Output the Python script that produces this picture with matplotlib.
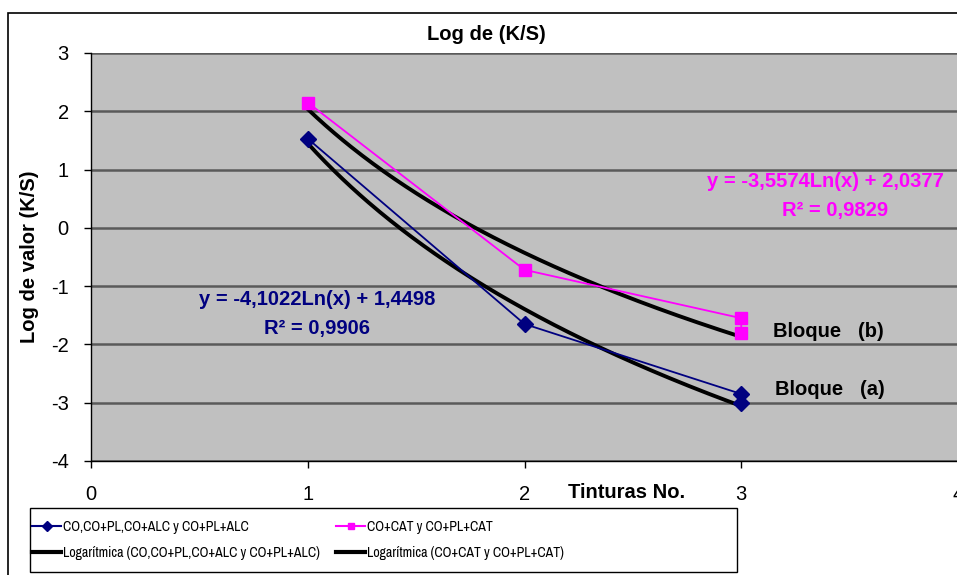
import matplotlib

matplotlib.use("Agg")
import matplotlib.pyplot as plt  # noqa: E402
import matplotlib.font_manager as fm  # noqa: E402
import numpy as np  # noqa: E402
from matplotlib.lines import Line2D  # noqa: E402
from matplotlib.patches import Rectangle  # noqa: E402

plt.rcParams["font.family"] = ["Liberation Sans", "DejaVu Sans"]
plt.rcParams["axes.unicode_minus"] = False

# measured values
tinturas_a = [1, 2, 3, 3]
logks_a = [1.53, -1.65, -2.85, -3.00]
tinturas_b = [1, 2, 3, 3]
logks_b = [2.15, -0.72, -1.55, -1.80]

# trendline coefficients as printed on the chart: y = m*ln(x) + c, R^2
trend_a = (-4.1022, 1.4498, 0.9906)
trend_b = (-3.5574, 2.0377, 0.9829)

label_a = "CO,CO+PL,CO+ALC y CO+PL+ALC"
label_b = "CO+CAT y CO+PL+CAT"

NAVY, MAGENTA, GRAY_BG, GRID = "#000080", "#FF00FF", "#C0C0C0", "#5a5a5a"


def narrow_font():
    """Pick a condensed face for the legend if one is installed."""
    for f in fm.fontManager.ttflist:
        if "Narrow" in f.name or "Condensed" in f.name:
            return {"family": f.name}
    for f in fm.fontManager.ttflist:
        if str(f.stretch).lower() in ("condensed", "semi-condensed", "600", "700"):
            return {"family": f.name, "stretch": f.stretch}
    return {"family": "Liberation Sans"}


def fmt(v):
    return f"{v:.4f}".replace(".", ",")


W, H = 957, 575
fig = plt.figure(figsize=(W / 100, H / 100), dpi=100)
ax = fig.add_axes([91 / W, (H - 461) / H, 867 / W, 408 / H])
ax.set_facecolor(GRAY_BG)

# outer chart frame (Excel style, clipped on right/bottom)
fig.add_artist(Rectangle((8 / W, -0.1), 1.2, (H - 13) / H + 0.1,
                         transform=fig.transFigure, fill=False,
                         edgecolor="black", lw=1.2))

ax.set_xlim(0, 4)
ax.set_ylim(-4, 3)
ax.set_xticks([0, 1, 2, 3, 4])
ax.set_yticks(range(-4, 4))
ax.yaxis.grid(True, color=GRID, lw=1.8)
ax.set_axisbelow(True)
for side in ("top", "right"):
    ax.spines[side].set_visible(False)
for side in ("left", "bottom"):
    ax.spines[side].set_color("black")
    ax.spines[side].set_linewidth(1.0)
ax.tick_params(axis="both", direction="out", length=5, width=1,
               labelsize=14.5, colors="black")
ax.tick_params(axis="y", pad=11)
ax.tick_params(axis="x", pad=12)

# trendlines
xs = np.linspace(1, 3, 200)
ax.plot(xs, trend_a[0] * np.log(xs) + trend_a[1], color="black", lw=2.8,
        zorder=3)
ax.plot(xs, trend_b[0] * np.log(xs) + trend_b[1], color="black", lw=2.8,
        zorder=3)

# data series
ax.plot(tinturas_a, logks_a, color=NAVY, lw=1.3, marker="D", ms=8.5,
        mfc=NAVY, mec=NAVY, zorder=4)
ax.plot(tinturas_b, logks_b, color=MAGENTA, lw=1.3, marker="s", ms=8,
        mfc=MAGENTA, mec=MAGENTA, zorder=4)

BOLD = {"fontsize": 14.5, "fontweight": "bold"}
fig.text(486 / W, (H - 34) / H, "Log de (K/S)", ha="center", va="center",
         **BOLD)
fig.text(30 / W, (H - 257) / H, "Log de valor (K/S)", rotation=90,
         ha="center", va="center", **BOLD)
fig.text(568 / W, (H - 492) / H, "Tinturas No.", ha="left", va="center",
         **BOLD)

# equations
ax.text(1.043, -1.235, f"y = {fmt(trend_a[0])}Ln(x) + {fmt(trend_a[1])}",
        color=NAVY, ha="center", va="center", **BOLD)
ax.text(1.043, -1.73, f"R² = {fmt(trend_a[2])}",
        color=NAVY, ha="center", va="center", **BOLD)
ax.text(2.842, 0.79, f"y = {fmt(trend_b[0])}Ln(x) + {fmt(trend_b[1])}",
        color=MAGENTA, ha="left", va="center", clip_on=False, **BOLD)
ax.text(3.433, 0.29, f"R² = {fmt(trend_b[2])}",
        color=MAGENTA, ha="center", va="center", **BOLD)

ax.text(3.147, -1.78, "Bloque   (b)", ha="left", va="center", **BOLD)
ax.text(3.156, -2.78, "Bloque   (a)", ha="left", va="center", **BOLD)

# legend
fig.add_artist(Rectangle((30 / W, (H - 572) / H), 707 / W, 64 / H,
                         transform=fig.transFigure, facecolor="white",
                         edgecolor="black", lw=1.0))
handles = [
    Line2D([], [], color=NAVY, marker="D", ms=5, lw=1.5),
    Line2D([], [], color="black", lw=3),
    Line2D([], [], color=MAGENTA, marker="s", ms=5, lw=1.5),
    Line2D([], [], color="black", lw=3),
]
labels = [label_a, f"Logarítmica ({label_a})", label_b,
          f"Logarítmica ({label_b})"]
prop = narrow_font()
prop["size"] = 10
leg = fig.legend(handles, labels, ncol=2, loc="upper left",
                 bbox_to_anchor=(21 / W, (H - 509) / H),
                 frameon=False, handlelength=2.1, handletextpad=0.1,
                 columnspacing=1.2, borderpad=0.3, labelspacing=0.85,
                 prop=prop)
leg.set_zorder(5)

fig.savefig("out.png", dpi=100)
